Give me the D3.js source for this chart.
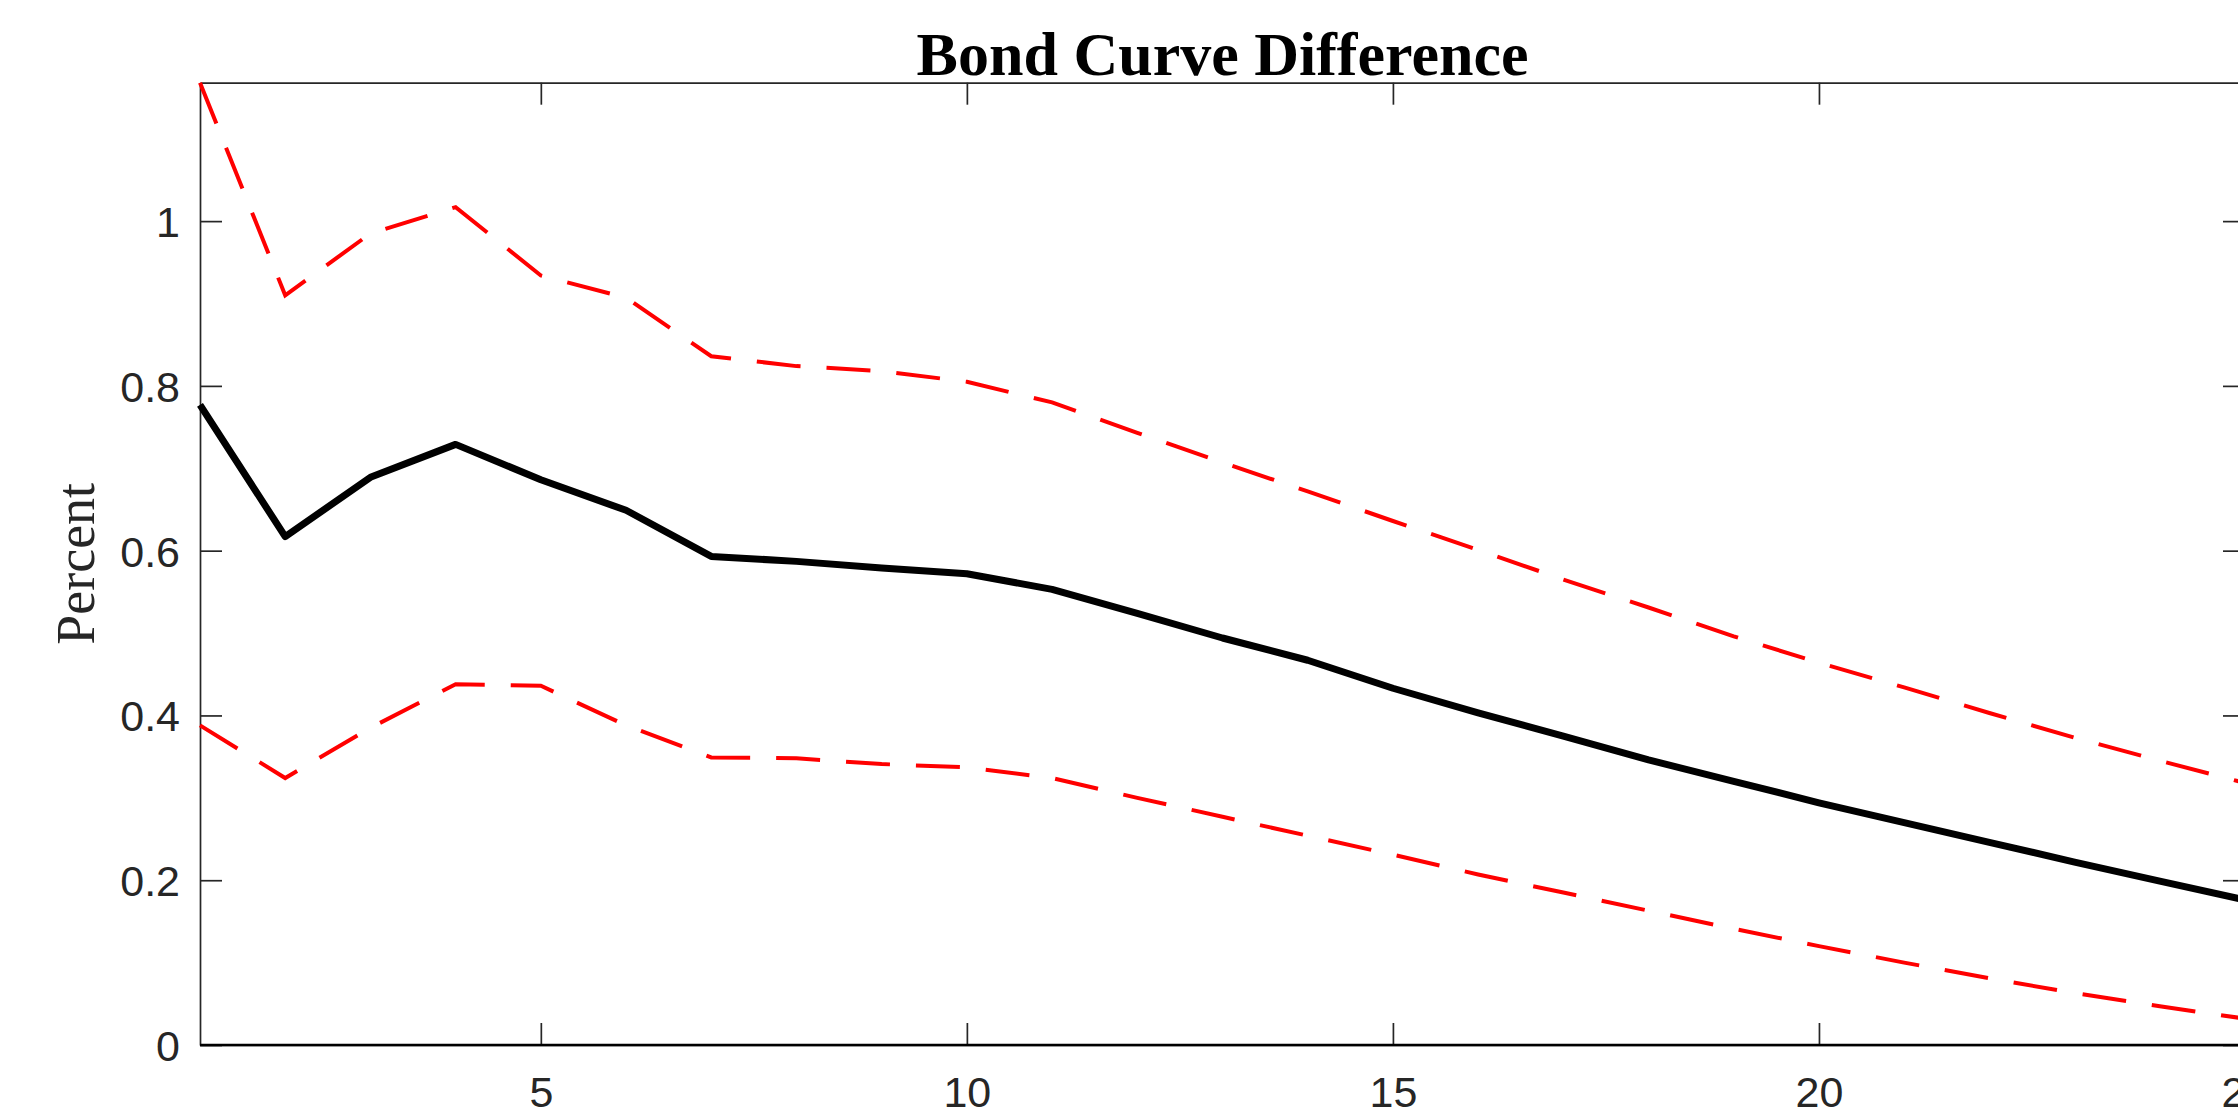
<!DOCTYPE html>
<html>
<head>
<meta charset="utf-8">
<script src="https://cdn.jsdelivr.net/npm/d3@7"></script>
<style>
  body { margin: 0; background: #fff; }
  svg { display: block; }
</style>
</head>
<body>
<svg id="chart" width="2238" height="1107"></svg>
<script>
//////////////////// DATA ////////////////////
// horizon (periods)
const horizon = d3.range(1, 26);

// point estimate (solid black)
const median = [0.777, 0.617, 0.689, 0.729, 0.686, 0.649, 0.593, 0.587, 0.579, 0.572,
                0.553, 0.524, 0.494, 0.467, 0.433, 0.403, 0.375, 0.346, 0.320, 0.294,
                0.270, 0.246, 0.222, 0.199, 0.176];

// upper band (red dashed)
const upper = [1.168, 0.910, 0.985, 1.017, 0.934, 0.907, 0.836, 0.824, 0.818, 0.805,
               0.780, 0.743, 0.707, 0.672, 0.636, 0.601, 0.565, 0.531, 0.496, 0.464,
               0.434, 0.403, 0.373, 0.345, 0.318];

// lower band (red dashed)
const lower = [0.388, 0.324, 0.385, 0.438, 0.436, 0.388, 0.349, 0.348, 0.341, 0.337,
               0.324, 0.300, 0.277, 0.254, 0.231, 0.207, 0.185, 0.163, 0.141, 0.120,
               0.100, 0.081, 0.063, 0.047, 0.032];

const xTicks = [5, 10, 15, 20, 25];
const yTicks = [0, 0.2, 0.4, 0.6, 0.8, 1];

//////////////////// SIZES ////////////////////
// the right edge of the box falls just outside the picture, as in the original
const plot = { left: 200, right: 2245, top: 82.7, bottom: 1045 };
const axisColor = "#262626";

const svg = d3.select("#chart");

//////////////////// SCALES ////////////////////
const x = d3.scaleLinear()
    .domain([1, 25])
    .range([plot.left, plot.right]);

// y limit is tight on the upper band
const y = d3.scaleLinear()
    .domain([0, d3.max(upper)])
    .range([plot.bottom, plot.top]);

//////////////////// AXES (box with inward ticks) ////////////////////
function styleAxis(g) {
    g.selectAll("path.domain").attr("stroke", axisColor).attr("stroke-width", 1.7);
    g.selectAll(".tick line").attr("stroke", axisColor).attr("stroke-width", 1.7);
    g.selectAll(".tick text")
        .attr("fill", axisColor)
        .style("font-family", "'Liberation Sans', Arial, sans-serif")
        .style("font-size", "43px");
}

svg.append("g")
    .attr("transform", `translate(0,${plot.bottom})`)
    .call(d3.axisBottom(x).tickValues(xTicks).tickSizeInner(-22).tickSizeOuter(0).tickPadding(31))
    .call(styleAxis);

svg.append("g")
    .attr("transform", `translate(0,${plot.top})`)
    .call(d3.axisTop(x).tickValues(xTicks).tickSizeInner(-22).tickSizeOuter(0).tickFormat(""))
    .call(styleAxis);

svg.append("g")
    .attr("transform", `translate(${plot.left},0)`)
    .call(d3.axisLeft(y).tickValues(yTicks).tickSizeInner(-22).tickSizeOuter(0).tickPadding(20)
        .tickFormat(d => d3.format("~g")(d)))
    .call(styleAxis)
    .selectAll(".tick text").attr("dy", "0.36em");

svg.append("g")
    .attr("transform", `translate(${plot.right},0)`)
    .call(d3.axisRight(y).tickValues(yTicks).tickSizeInner(-22).tickSizeOuter(0).tickFormat(""))
    .call(styleAxis);

//////////////////// LINES ////////////////////
const line = d3.line()
    .x((d, i) => x(horizon[i]))
    .y(d => y(d));

// zero line
svg.append("path")
    .datum(horizon.map(() => 0))
    .attr("d", line)
    .attr("fill", "none")
    .attr("stroke", "#000")
    .attr("stroke-width", 2.5);

[upper, lower].forEach(band => {
    svg.append("path")
        .datum(band)
        .attr("d", line)
        .attr("fill", "none")
        .attr("stroke", "#ff0000")
        .attr("stroke-width", 4)
        .attr("stroke-dasharray", "44,26");
});

svg.append("path")
    .datum(median)
    .attr("d", line)
    .attr("fill", "none")
    .attr("stroke", "#000")
    .attr("stroke-width", 7)
    .attr("stroke-linejoin", "round");

//////////////////// TITLE + LABEL ////////////////////
svg.append("text")
    .attr("x", (plot.left + plot.right) / 2)
    .attr("y", 75)
    .attr("text-anchor", "middle")
    .style("font-family", "'Liberation Serif', 'Times New Roman', serif")
    .style("font-weight", "bold")
    .style("font-size", "62px")
    .attr("fill", "#000")
    .text("Bond Curve Difference");

svg.append("text")
    .attr("transform", `translate(94,${(plot.top + plot.bottom) / 2}) rotate(-90)`)
    .attr("text-anchor", "middle")
    .style("font-family", "'Liberation Serif', 'Times New Roman', serif")
    .style("font-size", "54px")
    .attr("fill", axisColor)
    .text("Percent");
</script>
</body>
</html>
